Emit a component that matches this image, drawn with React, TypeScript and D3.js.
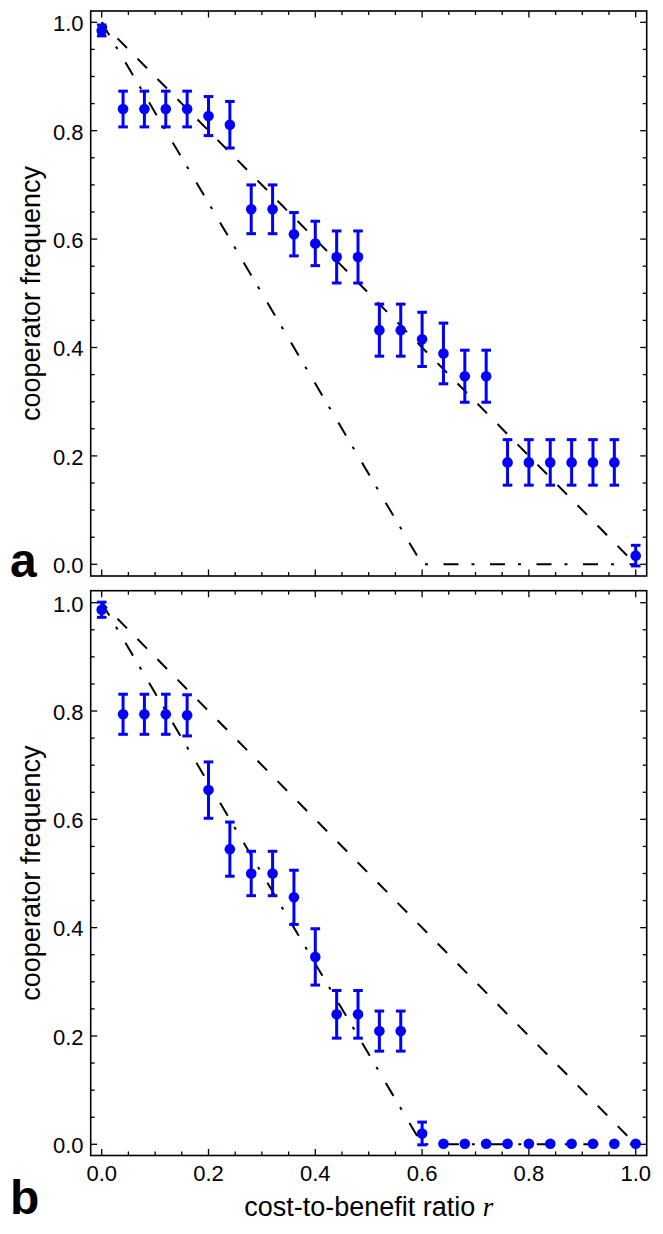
import React from 'react';
import * as d3 from 'd3';

// ---------- data ----------
const ratios = [0, 0.04, 0.08, 0.12, 0.16, 0.2, 0.24, 0.28, 0.32, 0.36, 0.4, 0.44, 0.48, 0.52, 0.56, 0.6, 0.64, 0.68, 0.72, 0.76, 0.8, 0.84, 0.88, 0.92, 0.96, 1.0];

const freqA = [0.985, 0.840, 0.840, 0.840, 0.840, 0.827, 0.811, 0.655, 0.655, 0.609, 0.592, 0.567, 0.567, 0.432, 0.432, 0.415, 0.389, 0.347, 0.347, 0.188, 0.188, 0.188, 0.188, 0.188, 0.188, 0.016];
const errA = [0.010, 0.033, 0.033, 0.033, 0.033, 0.036, 0.043, 0.045, 0.045, 0.040, 0.041, 0.048, 0.048, 0.048, 0.048, 0.050, 0.056, 0.048, 0.048, 0.042, 0.042, 0.042, 0.042, 0.042, 0.042, 0.019];

const freqB = [0.987, 0.794, 0.794, 0.794, 0.792, 0.654, 0.545, 0.500, 0.500, 0.456, 0.346, 0.240, 0.240, 0.209, 0.209, 0.020, 0.001, 0.001, 0.001, 0.001, 0.001, 0.001, 0.001, 0.001, 0.001, 0.001];
const errB = [0.014, 0.037, 0.037, 0.037, 0.038, 0.052, 0.050, 0.041, 0.041, 0.050, 0.052, 0.044, 0.044, 0.037, 0.037, 0.021, 0, 0, 0, 0, 0, 0, 0, 0, 0, 0];

// theory lines
const dashedR = [0, 1];
const dashedF = [1, 0];
const dashDotR = [0, 0.6, 1];
const dashDotF = [1, 0, 0];

const majorTicks = [0, 0.2, 0.4, 0.6, 0.8, 1.0];
const tickLabels = ['0.0', '0.2', '0.4', '0.6', '0.8', '1.0'];
const minorTicks = [0.05, 0.1, 0.15, 0.25, 0.3, 0.35, 0.45, 0.5, 0.55, 0.65, 0.7, 0.75, 0.85, 0.9, 0.95];

const yAxisTitle = 'cooperator frequency';
const xAxisTitle = 'cost-to-benefit ratio ';
const xAxisVar = 'r';

// ---------- layout ----------
const W = 663;
const H = 1234;
const FRAME_L = 90.7;
const FRAME_R = 646.7;
const SANS = "'Liberation Sans', Arial, Helvetica, sans-serif";
const BLUE = '#0000ff';

const x = d3.scaleLinear().domain([0, 1]).range([101.7, 635.7]);

interface PanelProps {
  y1px: number;
  y0px: number;
  frameTop: number;
  frameBottom: number;
  freq: number[];
  err: number[];
  letter: string;
  letterY: number;
  showXLabels: boolean;
}

function Panel({ y1px, y0px, frameTop, frameBottom, freq, err, letter, letterY, showXLabels }: PanelProps) {
  const y = d3.scaleLinear().domain([0, 1]).range([y0px, y1px]);
  const mk = (rs: number[], fs: number[]) =>
    d3.line<[number, number]>().x((d) => x(d[0])).y((d) => y(d[1]))(rs.map((r, i) => [r, fs[i]] as [number, number])) || '';
  const majorLen = 6.5;
  const minorLen = 4;
  const ticks: React.ReactElement[] = [];
  const addTicks = (vals: number[], len: number, key: string) => {
    vals.forEach((v, i) => {
      const xp = x(v);
      const yp = y(v);
      ticks.push(<line key={`${key}b${i}`} x1={xp} x2={xp} y1={frameBottom} y2={frameBottom - len} stroke="#000" strokeWidth={1.3} />);
      ticks.push(<line key={`${key}t${i}`} x1={xp} x2={xp} y1={frameTop} y2={frameTop + len} stroke="#000" strokeWidth={1.3} />);
      ticks.push(<line key={`${key}l${i}`} x1={FRAME_L} x2={FRAME_L + len} y1={yp} y2={yp} stroke="#000" strokeWidth={1.3} />);
      ticks.push(<line key={`${key}r${i}`} x1={FRAME_R} x2={FRAME_R - len} y1={yp} y2={yp} stroke="#000" strokeWidth={1.3} />);
    });
  };
  addTicks(majorTicks, majorLen, 'M');
  addTicks(minorTicks, minorLen, 'm');
  const midY = (frameTop + frameBottom) / 2;
  return (
    <g>
      {/* theory lines */}
      <path d={mk(dashedR, dashedF)} fill="none" stroke="#000" strokeWidth={2} strokeDasharray="13.5,15" strokeDashoffset={6} />
      <path d={mk(dashDotR, dashDotF)} fill="none" stroke="#000" strokeWidth={2} strokeDasharray="15,13,3,15.5" strokeDashoffset={0} />
      {/* data */}
      {ratios.map((r, i) => {
        const cx = x(r);
        const cy = y(freq[i]);
        const hi = y(freq[i] + err[i]);
        const lo = y(freq[i] - err[i]);
        const show = Math.abs(lo - hi) > 3;
        return (
          <g key={i}>
            {show && (
              <g stroke={BLUE} strokeWidth={3}>
                <line x1={cx} x2={cx} y1={hi} y2={lo} />
                <line x1={cx - 4.8} x2={cx + 4.8} y1={hi} y2={hi} />
                <line x1={cx - 4.8} x2={cx + 4.8} y1={lo} y2={lo} />
              </g>
            )}
            <circle cx={cx} cy={cy} r={5.3} fill={BLUE} />
          </g>
        );
      })}
      {/* frame */}
      <rect x={FRAME_L} y={frameTop} width={FRAME_R - FRAME_L} height={frameBottom - frameTop} fill="none" stroke="#000" strokeWidth={1.6} />
      {ticks}
      {/* y tick labels */}
      {majorTicks.map((v, i) => (
        <text key={`yl${i}`} x={83.5} y={y(v) + 8.8} textAnchor="end" fontFamily={SANS} fontSize={22} fill="#000">
          {tickLabels[i]}
        </text>
      ))}
      {showXLabels &&
        majorTicks.map((v, i) => (
          <text key={`xl${i}`} x={x(v)} y={1181} textAnchor="middle" fontFamily={SANS} fontSize={22} fill="#000">
            {tickLabels[i]}
          </text>
        ))}
      <text transform={`translate(40,${midY}) rotate(-90)`} textAnchor="middle" fontFamily={SANS} fontSize={27} fill="#000">
        {yAxisTitle}
      </text>
      <text x={10} y={letterY} fontFamily={SANS} fontSize={48} fontWeight="bold" fill="#000">
        {letter}
      </text>
    </g>
  );
}

export default function App() {
  return (
    <svg width={W} height={H} viewBox={`0 0 ${W} ${H}`} style={{ position: 'absolute', left: 0, top: 0, background: '#fff' }}>
      <rect x={0} y={0} width={W} height={H} fill="#fff" />
      <Panel y1px={22.3} y0px={564.3} frameTop={11} frameBottom={576} freq={freqA} err={errA} letter="a" letterY={577} showXLabels={false} />
      <Panel y1px={602.7} y0px={1144.3} frameTop={590.7} frameBottom={1155.5} freq={freqB} err={errB} letter="b" letterY={1214} showXLabels={true} />
      <text x={368.7} y={1216} textAnchor="middle" fontFamily={SANS} fontSize={27} fill="#000">
        {xAxisTitle}
        <tspan fontFamily="'Liberation Serif', 'Times New Roman', serif" fontStyle="italic">{xAxisVar}</tspan>
      </text>
    </svg>
  );
}
